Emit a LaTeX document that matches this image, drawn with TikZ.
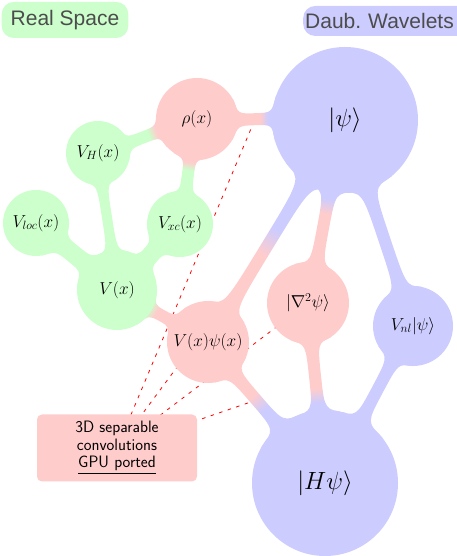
\documentclass[tikz,border=0pt]{standalone}
\usepackage{amsmath}
\usepackage{amssymb}
\usepackage{xcolor}
\usepackage{fontspec}
\newfontfamily\headfont{Liberation Sans}
\usetikzlibrary{calc}

\definecolor{rgreen}{RGB}{204,255,204}
\definecolor{rred}{RGB}{255,204,204}
\definecolor{rblue}{RGB}{204,204,255}
\colorlet{ca}{rred}
\colorlet{cb}{rblue}

\pgfdeclarehorizontalshading[ca,cb]{nearA}{100bp}{color(0bp)=(ca); color(34bp)=(ca); color(43bp)=(cb); color(100bp)=(cb)}
\pgfdeclarehorizontalshading[ca,cb]{midway}{100bp}{color(0bp)=(ca); color(45bp)=(ca); color(55bp)=(cb); color(100bp)=(cb)}
\pgfdeclarehorizontalshading[ca,cb]{nearB}{100bp}{color(0bp)=(ca); color(57bp)=(ca); color(66bp)=(cb); color(100bp)=(cb)}

\pgfdeclarelayer{back}
\pgfdeclarelayer{links}
\pgfsetlayers{back,links,main}

\tikzset{
  blob/.style={circle, inner sep=0pt, minimum size=#1},
  lbl/.style={font=\fontsize{17}{17}\selectfont},
  biglbl/.style={font=\fontsize{30}{30}\selectfont},
  head/.style={rounded corners=12pt, text=black!70, font=\headfont\fontsize{21}{21}\selectfont},
  convbox/.style={fill=rred, rounded corners=5pt, align=center, minimum width=160pt, minimum height=67pt, font=\sffamily\fontsize{16.5}{17.5}\selectfont},
  convline/.style={red, line width=0.8pt, dash pattern=on 3.5pt off 5.5pt}
}

% blobby link between two balls: from, to, colour from, colour to, shading, half neck, flare from, flare to
\newcommand\link[8]{%
  \pgfmathanglebetweenpoints{\pgfpointanchor{#1}{center}}{\pgfpointanchor{#2}{center}}%
  \pgfmathsetmacro\ab{\pgfmathresult}%
  \pgfmathsetmacro\ba{\ab+180}%
  \pgfmathsetmacro\aP{\ab+#7}\pgfmathsetmacro\aM{\ab-#7}%
  \pgfmathsetmacro\bP{\ba+#8}\pgfmathsetmacro\bM{\ba-#8}%
  \colorlet{ca}{#3}\colorlet{cb}{#4}%
  \shade[shading=#5, shading angle=\ab]
    (#1.\aP) .. controls ($(#1.\ab)!#6!90:(#2.\ba)$) .. ($(#1.\ab)!0.5!(#2.\ba)!#6!90:(#2.\ba)$)
    .. controls ($(#2.\ba)!#6!-90:(#1.\ab)$) .. (#2.\bM)
    -- (#2.\bP) .. controls ($(#2.\ba)!#6!90:(#1.\ab)$) .. ($(#1.\ab)!0.5!(#2.\ba)!#6!-90:(#2.\ba)$)
    .. controls ($(#1.\ab)!#6!-90:(#2.\ba)$) .. (#1.\aM) -- cycle;
  \coordinate (#1#2) at ($(#1.\ab)!0.5!(#2.\ba)$);%
}

\begin{document}
\begin{tikzpicture}[x=1pt,y=1pt]
\useasboundingbox (0,0) rectangle (456,556);

% headers
\node[head, fill=rgreen, inner xsep=9pt, minimum height=36pt] (real) at (65,536) {Real Space};
\node[head, fill=rblue, anchor=west, inner xsep=2pt, text width=162pt, minimum height=30pt] (daub) at (303,535) {Daub.\ Wavelets};

% real space
\node[blob=82pt, fill=rred, lbl] (rho) at (197,437) {$\rho(x)$};
\node[blob=64pt, fill=rgreen, lbl] (VH) at (98,403) {$V_H(x)$};
\node[blob=66pt, fill=rgreen, lbl] (Vloc) at (36,333) {$V_{loc}(x)$};
\node[blob=66pt, fill=rgreen, lbl] (Vxc) at (180,332) {$V_{xc}(x)$};
\node[blob=80pt, fill=rgreen, lbl] (V) at (117,266) {$V(x)$};
\node[blob=82pt, fill=rred, lbl] (Vpsi) at (208,214) {$V(x)\psi(x)$};

% wavelets
\node[blob=146pt, fill=rblue, biglbl] (psi) at (345,436) {$|\psi\rangle$};
\node[blob=82pt, fill=rred, lbl] (nabla) at (308,253) {$|\nabla^2\psi\rangle$};
\node[blob=80pt, fill=rblue, lbl] (Vnl) at (413,230) {$V_{nl}|\psi\rangle$};
\node[blob=146pt, fill=rblue, biglbl] (Hpsi) at (325,73) {$|H\psi\rangle$};

\node[convbox] (conv) at (117,108) {3D separable\\convolutions\\\underline{GPU ported}};

\begin{pgfonlayer}{links}
  \link{rho}{psi}{rred}{rblue}{nearB}{6pt}{30}{18}
  \link{VH}{rho}{rgreen}{rred}{nearB}{6pt}{35}{25}
  \link{rho}{Vxc}{rred}{rgreen}{nearA}{6pt}{25}{35}
  \link{VH}{V}{rgreen}{rgreen}{midway}{5pt}{30}{25}
  \link{Vloc}{V}{rgreen}{rgreen}{midway}{9pt}{40}{35}
  \link{Vxc}{V}{rgreen}{rgreen}{midway}{9pt}{40}{35}
  \link{V}{Vpsi}{rgreen}{rred}{nearA}{6pt}{30}{30}
  \link{psi}{Vpsi}{rblue}{rred}{midway}{6pt}{22}{30}
  \link{psi}{nabla}{rblue}{rred}{nearA}{6pt}{22}{30}
  \link{psi}{Vnl}{rblue}{rblue}{midway}{6pt}{22}{30}
  \link{Vpsi}{Hpsi}{rred}{rblue}{midway}{6pt}{30}{22}
  \link{nabla}{Hpsi}{rred}{rblue}{nearB}{6pt}{30}{22}
  \link{Vnl}{Hpsi}{rblue}{rblue}{midway}{6pt}{30}{22}
\end{pgfonlayer}

\begin{pgfonlayer}{back}
  \draw[convline] (conv.center) -- (rhopsi);
  \draw[convline] (conv.center) -- (psiVpsi);
  \draw[convline] (conv.center) -- (nabla.center);
  \draw[convline] (conv.center) -- (VpsiHpsi);
\end{pgfonlayer}
\end{tikzpicture}
\end{document}
